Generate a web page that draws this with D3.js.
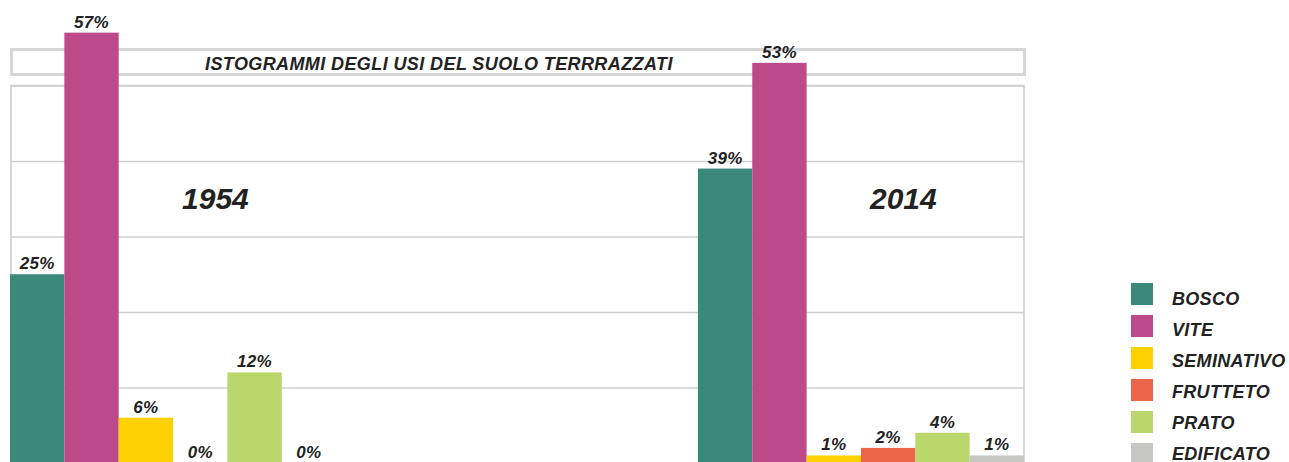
<!DOCTYPE html>
<html>
<head>
<meta charset="utf-8">
<script src="https://cdn.jsdelivr.net/npm/d3@7"></script>
<style>
  html, body { margin: 0; padding: 0; background: #fff; }
  svg { display: block; }
  text { font-family: "Liberation Sans", Arial, Helvetica, sans-serif; font-weight: bold; font-style: italic; fill: #222; }
</style>
</head>
<body>
<svg id="chart" width="1289" height="462"></svg>
<script>
// Land-use shares of terraced land, 1954 vs 2014
const years = ["1954", "2014"];
const categories = ["BOSCO", "VITE", "SEMINATIVO", "FRUTTETO", "PRATO", "EDIFICATO"];
const colors = ["#3b8a79", "#bc4a8a", "#fdd000", "#ec6548", "#bad76c", "#c6c6c5"];
const values1954 = [25, 57, 6, 0, 12, 0];
const values2014 = [39, 53, 1, 2, 4, 1];
const gridTicks = [10, 20, 30, 40, 50];
const title = "ISTOGRAMMI DEGLI USI DEL SUOLO TERRRAZZATI";

const series = { "1954": values1954, "2014": values2014 };

const svg = d3.select("#chart");

const plot = { left: 11, right: 1024, top: 85.5, bottom: 463 };

const x0 = d3.scaleBand().domain(years).range([10, 1024]).paddingInner(0.526).paddingOuter(0);
const x1 = d3.scaleBand().domain(categories).range([0, x0.bandwidth()]).padding(0);
const y = d3.scaleLinear().domain([0, 50]).range([plot.bottom, plot.top]);
const color = d3.scaleOrdinal().domain(categories).range(colors);

// frame of the plot area
svg.append("rect")
  .attr("x", plot.left).attr("y", y(50))
  .attr("width", plot.right - plot.left).attr("height", plot.bottom - y(50) + 10)
  .attr("fill", "none").attr("stroke", "#c9c9c9").attr("stroke-width", 1.5);

// horizontal gridlines
const grid = svg.append("g")
  .attr("transform", `translate(${plot.left},0)`)
  .call(d3.axisLeft(y).tickValues(gridTicks).tickSize(-(plot.right - plot.left)).tickFormat(""));
grid.select(".domain").remove();
grid.selectAll(".tick line").attr("stroke", "#cfcfcf").attr("stroke-width", 1.5);

// title box
svg.append("rect")
  .attr("x", 11.5).attr("y", 49.5).attr("width", 1013).attr("height", 25)
  .attr("fill", "#fff").attr("stroke", "#d6d6d6").attr("stroke-width", 3);
svg.append("text")
  .attr("x", 205).attr("y", 70)
  .style("font-size", "18px")
  .style("letter-spacing", "0.4px")
  .text(title);

// bars and value labels
const groups = svg.selectAll("g.year")
  .data(years)
  .join("g")
  .attr("class", "year")
  .attr("transform", d => `translate(${x0(d)},0)`);

groups.selectAll("text.val")
  .data(yr => categories.map((c, i) => ({ cat: c, v: series[yr][i] })))
  .join("text")
  .attr("class", "val")
  .attr("x", d => x1(d.cat) + x1.bandwidth() / 2)
  .attr("y", d => y(d.v) - 5)
  .attr("text-anchor", "middle")
  .style("font-size", "17px")
  .style("letter-spacing", "0.3px")
  .text(d => d.v + "%");

groups.selectAll("rect.bar")
  .data(yr => categories.map((c, i) => ({ cat: c, v: series[yr][i] })))
  .join("rect")
  .attr("class", "bar")
  .attr("x", d => x1(d.cat))
  .attr("y", d => y(d.v))
  .attr("width", x1.bandwidth())
  .attr("height", d => y(0) - y(d.v))
  .attr("fill", d => color(d.cat));

// year labels
groups.append("text")
  .attr("x", x0.bandwidth() * 0.63)
  .attr("y", 209)
  .attr("text-anchor", "middle")
  .style("font-size", "30px")
  .text(d => d);

// legend
const legend = svg.append("g").attr("transform", "translate(1131,283)");
const item = legend.selectAll("g")
  .data(categories)
  .join("g");
item.append("rect")
  .attr("y", (d, i) => i * 32)
  .attr("width", 22).attr("height", 22)
  .attr("fill", d => color(d));
item.append("text")
  .attr("x", 41).attr("y", (d, i) => 21.5 + i * 31)
  .style("font-size", "18px")
  .style("letter-spacing", "0.3px")
  .text(d => d);
</script>
</body>
</html>
